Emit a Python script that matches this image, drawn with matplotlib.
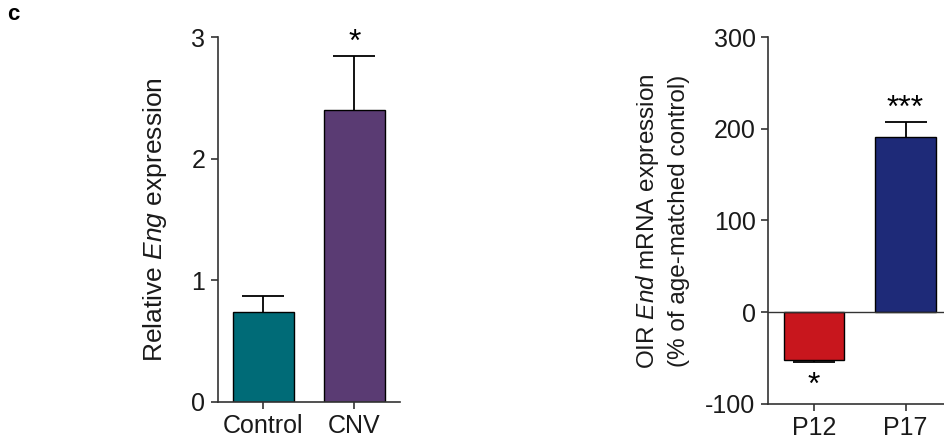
import matplotlib
matplotlib.use('Agg')
import matplotlib.pyplot as plt

plt.rcParams['font.family'] = ['Liberation Sans', 'DejaVu Sans']
plt.rcParams['mathtext.fontset'] = 'custom'
plt.rcParams['mathtext.it'] = 'Liberation Sans:italic'
plt.rcParams['mathtext.rm'] = 'Liberation Sans'
plt.rcParams['axes.unicode_minus'] = False

# left panel: relative Eng expression
left_groups = ['Control', 'CNV']
left_means = [0.74, 2.40]
left_sem = [0.13, 0.44]
left_colors = ['#006b77', '#5a3b73']
left_stars = ['', '*']

# right panel: OIR End mRNA expression
right_groups = ['P12', 'P17']
right_means = [-52, 191]
right_sem = [3, 16]
right_colors = ['#c8161d', '#1e2a78']
right_stars = ['*', '***']

FS = 18
txt_color = '#1a1a1a'

fig = plt.figure(figsize=(9.44, 4.48), dpi=100)
ax1 = fig.add_axes([0.2309, 0.1027, 0.1928, 0.8147])
ax2 = fig.add_axes([0.8136, 0.0989, 0.1864, 0.8185])


def style_axis(ax):
    for s in ['top', 'right']:
        ax.spines[s].set_visible(False)
    for s in ['left', 'bottom']:
        ax.spines[s].set_linewidth(1.2)
        ax.spines[s].set_color('#333333')
    ax.tick_params(axis='both', direction='out', length=5, width=1.2,
                   color='#333333', labelsize=FS, labelcolor=txt_color, pad=4)


def one_sided_errors(ax, xs, means, errs):
    # error bar only on the side away from zero
    for x, m, e in zip(xs, means, errs):
        lo = [e] if m < 0 else [0]
        hi = [e] if m >= 0 else [0]
        _, caps, _ = ax.errorbar([x], [m], yerr=[lo, hi], fmt='none', ecolor='black',
                                 elinewidth=1.3, capsize=15, capthick=1.3, zorder=1)
        # caps[0] is the lower cap, caps[1] the upper one
        if m >= 0:
            caps[0].set_visible(False)
        else:
            caps[1].set_visible(False)


# left
x1 = list(range(len(left_groups)))
ax1.bar(x1, left_means, width=0.66, color=left_colors, edgecolor='black', linewidth=1.0, zorder=2)
one_sided_errors(ax1, x1, left_means, left_sem)
ax1.set_xlim(-0.5, 1.5)
ax1.set_ylim(0, 3)
ax1.set_yticks([0, 1, 2, 3])
ax1.set_xticks(x1)
ax1.set_xticklabels(left_groups)
style_axis(ax1)
for i, s in enumerate(left_stars):
    if s:
        ax1.text(i, 2.95, s, ha='center', va='center', fontsize=FS + 5, color='black',
                 clip_on=False)

# right
x2 = list(range(len(right_groups)))
ax2.bar(x2, right_means, width=0.66, color=right_colors, edgecolor='black', linewidth=1.0, zorder=2)
one_sided_errors(ax2, x2, right_means, right_sem)
ax2.axhline(0, color='#333333', linewidth=1.0, zorder=3)
ax2.set_xlim(-0.5, 1.42)
ax2.set_ylim(-100, 300)
ax2.set_yticks([-100, 0, 100, 200, 300])
ax2.set_xticks(x2)
ax2.set_xticklabels(right_groups)
style_axis(ax2)
ax2.text(0, -81, right_stars[0], ha='center', va='center', fontsize=FS + 5, color='black')
ax2.text(1, 222, right_stars[1], ha='center', va='center', fontsize=FS + 5, color='black')

# axis labels
fig.text(155 / 944, 1 - 220 / 448, 'Relative $\\it{Eng}$ expression', rotation=90,
         ha='center', va='center', fontsize=19, color=txt_color)
fig.text(662 / 944, 1 - 221 / 448, 'OIR $\\it{End}$ mRNA expression\n(% of age-matched control)',
         rotation=90, ha='center', va='center', fontsize=17.5, color=txt_color,
         linespacing=1.45, multialignment='center')

fig.text(13 / 944, 1 - 15 / 448, 'c', fontsize=16, fontweight='bold', ha='center', va='center')

fig.savefig('out.png', dpi=100)
